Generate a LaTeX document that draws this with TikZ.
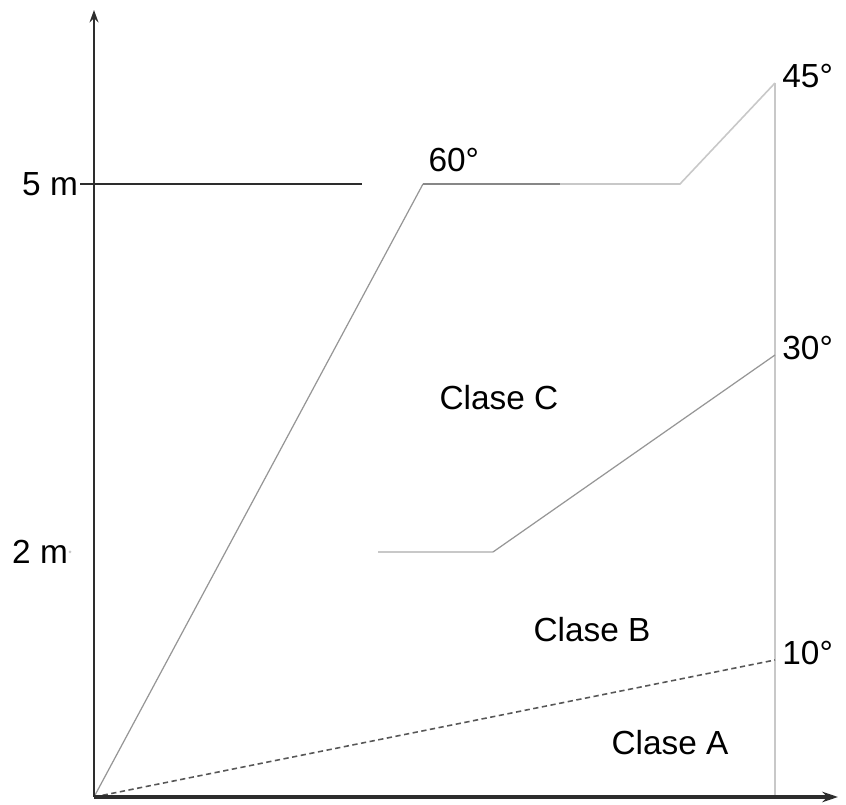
\documentclass[tikz,border=0pt]{standalone}
\usepackage{fontspec}
\setmainfont{Liberation Sans}
\usetikzlibrary{arrows.meta,positioning}
\definecolor{axisgray}{RGB}{45,45,45}
\definecolor{linegray}{RGB}{150,150,150}
\definecolor{palegray}{RGB}{200,200,200}

\begin{document}
\begin{tikzpicture}[x=0.02cm,y=0.02cm,
    lbl/.style={font=\fontsize{19}{22}\selectfont,inner sep=1pt},
    border/.style={palegray,line width=0.6pt}]
    \useasboundingbox (0,0) rectangle (846,805);
    % points of the chart
    \coordinate (o) at (94,8);
    \coordinate (ytop) at (94,795);
    \coordinate (xend) at (838,8);
    \coordinate (m5) at (80,621);
    \coordinate (m5end) at (362,621);
    \coordinate (m2) at (70,253);
    \coordinate (k60) at (423,621);
    \coordinate (k60mid) at (560,621);
    \coordinate (k60end) at (680,621);
    \coordinate (k45) at (775,722);
    \coordinate (k30a) at (378,253);
    \coordinate (k30b) at (493,253);
    \coordinate (k30) at (775,450);
    \coordinate (k10) at (775,145);
    \coordinate (kbase) at (775,8);

    \draw[border] (k45)--(kbase);
    \draw[linegray,line width=0.7pt] (o)--(k60);
    \draw[linegray!90!black,line width=0.9pt] (k60)--(k60mid);
    \draw[palegray,line width=0.9pt] (k60mid)--(k60end)--(k45);
    \draw[palegray,line width=1.1pt] (k30a)--(k30b);
    \draw[linegray,line width=0.7pt] (k30b)--(k30);
    \draw[axisgray!80,line width=0.9pt,dash pattern=on 3pt off 2pt] (o)--(k10);
    \draw[axisgray,line width=1.7pt] (m5)--(m5end);
    \draw[axisgray,line width=1.5pt,-{Stealth[length=7pt,width=5pt]}] (o)--(ytop);
    \draw[axisgray,line width=2pt,-{Stealth[length=9pt,width=6pt]}] (o)--(xend);

    \node[lbl,anchor=east] (l5) at (m5) {5 m};
    \node[lbl,anchor=east] (l2) at (m2) {2 m};
    \fill[palegray] (m2) circle (1.5);
    \node[lbl,anchor=south west] (l60) at ([xshift=2,yshift=6]k60) {60°};
    \foreach \p/\t in {k45/45°,k30/30°,k10/10°}
      \node[lbl,anchor=west] at ([xshift=3,yshift=4]\p) {\t};

    \node[lbl] (cc) at (499,407) {Clase C};
    \node[lbl] (cb) at (592,175) {Clase B};
    \node[lbl] (ca) at (670,62) {Clase A};
\end{tikzpicture}
\end{document}
